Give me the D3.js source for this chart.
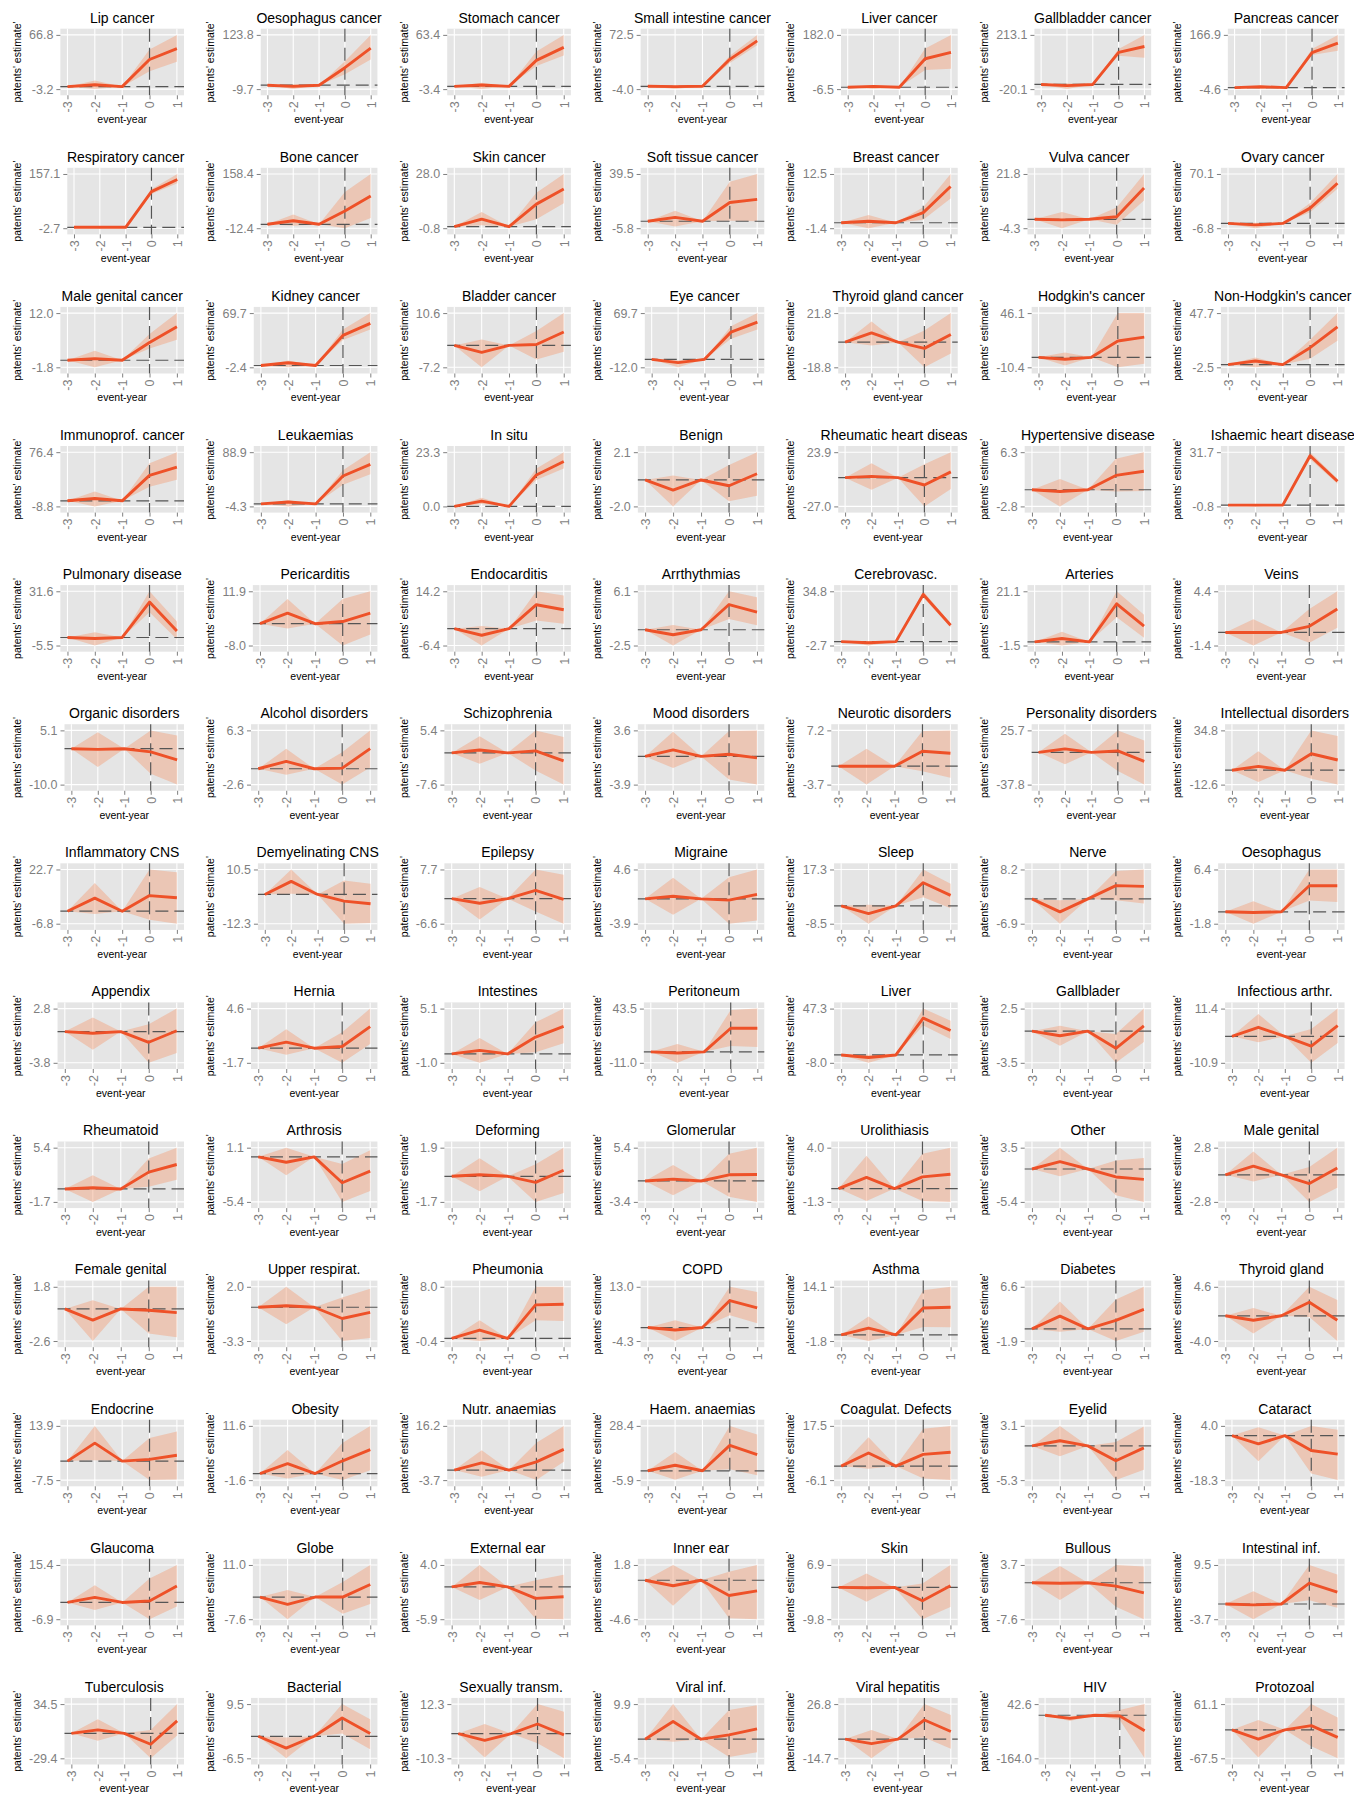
<!DOCTYPE html>
<html>
<head>
<meta charset="utf-8">
<script src="https://cdn.jsdelivr.net/npm/d3@7"></script>
<style>
  body { margin: 0; background: #fff; }
  svg text { font-family: "Liberation Sans", Arial, Helvetica, sans-serif; }
</style>
</head>
<body>
<div id="chart"></div>
<script>
// event-years on the x axis
const eventYears = [-3, -2, -1, 0, 1];

const panelTitles = [
  "Lip cancer", "Oesophagus cancer", "Stomach cancer", "Small intestine cancer", "Liver cancer", "Gallbladder cancer", "Pancreas cancer",
  "Respiratory cancer", "Bone cancer", "Skin cancer", "Soft tissue cancer", "Breast cancer", "Vulva cancer", "Ovary cancer",
  "Male genital cancer", "Kidney cancer", "Bladder cancer", "Eye cancer", "Thyroid gland cancer", "Hodgkin's cancer", "Non-Hodgkin's cancer",
  "Immunoprof. cancer", "Leukaemias", "In situ", "Benign", "Rheumatic heart disease", "Hypertensive disease", "Ishaemic heart disease",
  "Pulmonary disease", "Pericarditis", "Endocarditis", "Arrthythmias", "Cerebrovasc.", "Arteries", "Veins",
  "Organic disorders", "Alcohol disorders", "Schizophrenia", "Mood disorders", "Neurotic disorders", "Personality disorders", "Intellectual disorders",
  "Inflammatory CNS", "Demyelinating CNS", "Epilepsy", "Migraine", "Sleep", "Nerve", "Oesophagus",
  "Appendix", "Hernia", "Intestines", "Peritoneum", "Liver", "Gallblader", "Infectious arthr.",
  "Rheumatoid", "Arthrosis", "Deforming", "Glomerular", "Urolithiasis", "Other", "Male genital",
  "Female genital", "Upper respirat.", "Pheumonia", "COPD", "Asthma", "Diabetes", "Thyroid gland",
  "Endocrine", "Obesity", "Nutr. anaemias", "Haem. anaemias", "Coagulat. Defects", "Eyelid", "Cataract",
  "Glaucoma", "Globe", "External ear", "Inner ear", "Skin", "Bullous", "Intestinal inf.",
  "Tuberculosis", "Bacterial", "Sexually transm.", "Viral inf.", "Viral hepatitis", "HIV", "Protozoal"
];

// the two y tick labels of every panel (max of upper band, min of lower band)
const tickTop = [
  66.8, 123.8, 63.4, 72.5, 182.0, 213.1, 166.9,
  157.1, 158.4, 28.0, 39.5, 12.5, 21.8, 70.1,
  12.0, 69.7, 10.6, 69.7, 21.8, 46.1, 47.7,
  76.4, 88.9, 23.3, 2.1, 23.9, 6.3, 31.7,
  31.6, 11.9, 14.2, 6.1, 34.8, 21.1, 4.4,
  5.1, 6.3, 5.4, 3.6, 7.2, 25.7, 34.8,
  22.7, 10.5, 7.7, 4.6, 17.3, 8.2, 6.4,
  2.8, 4.6, 5.1, 43.5, 47.3, 2.5, 11.4,
  5.4, 1.1, 1.9, 5.4, 4.0, 3.5, 2.8,
  1.8, 2.0, 8.0, 13.0, 14.1, 6.6, 4.6,
  13.9, 11.6, 16.2, 28.4, 17.5, 3.1, 4.0,
  15.4, 11.0, 4.0, 1.8, 6.9, 3.7, 9.5,
  34.5, 9.5, 12.3, 9.9, 26.8, 42.6, 61.1
];
const tickBottom = [
  -3.2, -9.7, -3.4, -4.0, -6.5, -20.1, -4.6,
  -2.7, -12.4, -0.8, -5.8, -1.4, -4.3, -6.8,
  -1.8, -2.4, -7.2, -12.0, -18.8, -10.4, -2.5,
  -8.8, -4.3, 0.0, -2.0, -27.0, -2.8, -0.8,
  -5.5, -8.0, -6.4, -2.5, -2.7, -1.5, -1.4,
  -10.0, -2.6, -7.6, -3.9, -3.7, -37.8, -12.6,
  -6.8, -12.3, -6.6, -3.9, -8.5, -6.9, -1.8,
  -3.8, -1.7, -1.0, -11.0, -8.0, -3.5, -10.9,
  -1.7, -5.4, -1.7, -3.4, -1.3, -5.4, -2.8,
  -2.6, -3.3, -0.4, -4.3, -1.8, -1.9, -4.0,
  -7.5, -1.6, -3.7, -5.9, -6.1, -5.3, -18.3,
  -6.9, -7.6, -5.9, -4.6, -9.8, -7.6, -3.7,
  -29.4, -6.5, -10.3, -5.4, -14.7, -164.0, -67.5
];

// patients' estimate per event-year (-3 .. 1)
const estimate = [
  [0, 2.5, 0, 35, 49], [0, -3, 0, 43, 91], [0, 1.7, 0, 32, 48], [0, -0.5, 0, 38, 64], [0, 3, 0, 99, 121], [0, -5, 0, 138, 163], [0, 3, 0, 111, 141],
  [0, 0, 0, 105, 141], [0, 11, 0, 42, 89], [0, 4, 0, 12, 20], [0, 3.3, 0, 15.7, 18.3], [0, 0.4, 0, 2.6, 9.3], [0, -0.3, 0, 1.2, 15], [0, -2, 0, 21.7, 57],
  [0, 0.4, 0, 4.5, 8.5], [0, 3.6, 0, 40, 56], [0, -2.3, 0, 0.3, 4.4], [0, -5, 0, 41, 56], [0, 7, 0, -4.6, 5.8], [0, -2, 0, 17, 21], [0, 3.3, 0, 15.7, 35],
  [0, 3.7, 0, 40, 53], [0, 3.4, 0, 48, 68], [0, 2.3, 0, 13.5, 19.3], [0, -0.77, 0, -0.44, 0.47], [0, 1.2, 0, -6.9, 5.4], [0, -0.3, 0, 2.4, 3.1], [0, 0, 0, 29.6, 14.3],
  [0, -0.7, 0, 24.2, 4.5], [0, 3.9, 0, 0.8, 3.9], [0, -2.5, 0, 9.1, 7.2], [0, -0.8, 0, 4, 2.8], [0, -0.8, 0, 32.6, 11.3], [0, 1.4, 0, 15.9, 6.6], [0, 0, 0, 0.65, 2.5],
  [0, -0.2, 0, -0.9, -3.1], [0, 1.2, 0, 0.1, 3.3], [0, 0.7, 0, 0.5, -1.9], [0, 0.9, 0, 0.3, -0.2], [0, 0, 0, 3, 2.6], [0, 4, 0, 1.6, -10.5], [0, 3.4, 0, 14.4, 8.9],
  [0, 7.1, 0, 8.5, 7.3], [0, 5.5, 0, -2.8, -3.9], [0, -1.2, 0, 2.2, -0.2], [0, 0.4, 0, -0.2, 0.7], [0, -3.7, 0, 11, 5], [0, -3.6, 0, 3.7, 3.5], [0, -0.1, 0, 3.95, 3.95],
  [0, -0.2, 0, -1.3, 0.1], [0, 0.7, 0, 0.2, 2.5], [0, 0.4, 0, 1.9, 3.1], [0, -1.2, 0, 23.7, 23.7], [0, -2.6, 0, 37.6, 25], [0, -0.5, 0, -1.9, 0.6], [0, 3.7, 0, -4, 4.4],
  [0, 0.15, 0, 2.2, 3.2], [0, -0.65, 0, -3.1, -1.7], [0, 0.1, 0, -0.4, 0.4], [0, 0.3, 0, 1, 1.05], [0, 1.1, 0, 1.15, 1.4], [0, 1.2, 0, -1.3, -1.7], [0, 0.9, 0, -0.9, 0.7],
  [0, -0.9, 0, -0.1, -0.3], [0, 0.15, 0, -1.1, -0.5], [0, 1.3, 0, 5.2, 5.3], [0, -0.8, 0, 8.6, 6.3], [0, 2, 0, 7.9, 8.1], [0, 2, 0, 1.35, 3.05], [0, -0.7, 0, 2.15, -0.7],
  [0, 7.1, 0, 0.7, 2.3], [0, 2.4, 0, 3.1, 5.8], [0, 2.6, 0, 3, 7.6], [0, 3.5, 0, 16.1, 10.2], [0, 5.7, 0, 5.1, 6], [0, 0.8, 0, -2.3, -0.3], [0, -3.4, 0, -6.1, -7.6],
  [0, 2.1, 0, 0.6, 6.8], [0, -2.5, 0, 0, 4.3], [0, 0.8, 0, -2.1, -1.8], [0, -0.65, 0, -1.8, -1.25], [0, -0.1, 0, -4.1, 0.5], [0, -0.1, 0, -0.7, -2.1], [0, -0.2, 0, 5.1, 2.9],
  [0, 4.1, 0, -12.8, 14.7], [0, -3.5, 0, 5.4, 0.8], [0, -2.8, 0, 4, -0.5], [0, 5, 0, 1.2, 2.9], [0, -3.5, 0, 14.6, 5.8], [0, -11.7, 0, -3, -58.6], [0, -22, 0, 10, -18]
];

// lower edge of the confidence band
const lower = [
  [0, -3.2, 0, 20, 32], [0, -9.7, 0, 27, 63], [0, -3.4, 0, 25, 38], [0, -4, 0, 33, 58], [0, -6.5, 0, 60, 64], [0, -20.1, 0, 123, 115], [0, -4.6, 0, 103, 117],
  [0, -2.7, 0, 98, 130], [0, -5, 0, -12.4, 20], [0, 0.8, 0, 4, 12.5], [0, -4.3, 0, 0.5, 0], [0, -1.4, 0, 0.8, 6.2], [0, -4.3, 0, -2.6, 9], [0, -6.8, 0, 16, 49],
  [0, -1.8, 0, 3, 5.2], [0, -2.4, 0, 34, 48], [0, -7.2, 0, -4.6, -2.1], [0, -12, 0, 31, 45], [0, -2.5, 0, -18.8, -8.4], [0, -8.6, 0, -10.4, -6.8], [0, -2.5, 0, 5.5, 22],
  [0, -8.8, 0, 22, 33], [0, -4.3, 0, 33, 51], [0, 1, 0, 11.4, 16.3], [0, -2, 0, -1.6, -1.2], [0, -11.4, 0, -27, -10.7], [0, -2.8, 0, -0.3, -0.2], [0, -0.8, 0, 27.5, 12.8],
  [0, -5.5, 0, 17.3, -1.2], [0, -1.8, 0, -8, -4], [0, -6.4, 0, 3.1, 1.9], [0, -2.5, 0, 1.7, 0.7], [0, -2.7, 0, 30.5, 10], [0, -1.5, 0, 10.3, 1.7], [0, -1.4, 0, -1.1, 0.5],
  [0, -5.1, 0, -7, -10], [0, -1, 0, -2.6, 0.2], [0, -2.6, 0, -4.2, -7.6], [0, -1.6, 0, -3.2, -3.9], [0, -3.7, 0, -1, -2.3], [0, -14, 0, -22, -37.8], [0, -10.3, 0, -7.4, -12.6],
  [0, -1.5, 0, -4.6, -6.8], [0, 0.3, 0, -12.3, -12], [0, -5.5, 0, -3.4, -6.6], [0, -2.5, 0, -3.9, -3.4], [0, -8.5, 0, 4.1, -1.1], [0, -6.9, 0, -0.4, -1.3], [0, -1.8, 0, 1.7, 1.5],
  [0, -2.2, 0, -3.8, -2.6], [0, -0.75, 0, -1.7, 0.5], [0, -1, 0, 0.2, 1.2], [0, -11, 0, 6, 4.8], [0, -8, 0, 30, 16.3], [0, -1.6, 0, -3.5, -1.2], [0, -2.4, 0, -10.9, -2.8],
  [0, -1.7, 0, 0.3, 1.2], [0, -2.2, 0, -5.4, -4.1], [0, -1, 0, -1.7, -1.1], [0, -2.3, 0, -2.55, -3.4], [0, -1.2, 0, -1.2, -1.3], [0, -1.2, 0, -4.3, -5.4], [0, -0.7, 0, -2.8, -1.35],
  [0, -2.6, 0, -2, -2.3], [0, -1.65, 0, -3.3, -3], [0, -0.4, 0, 2.8, 2.7], [0, -4.3, 0, 3.9, 1.4], [0, -1.8, 0, 2.3, 2.2], [0, -0.45, 0, -1.9, -0.45], [0, -2.8, 0, -0.2, -4],
  [0, 0.3, 0, -7.5, -7.3], [0, -1.2, 0, -1.6, 0.8], [0, -2.5, 0, -3.7, 3], [0, -5.7, 0, 1, -2.8], [0, -1.1, 0, -5.4, -6.1], [0, -1.6, 0, -5.3, -3.7], [0, -10.5, 0, -15.6, -18.3],
  [0, -3.1, 0, -6.9, -1.7], [0, -7.6, 0, -5.7, -2.4], [0, -2.4, 0, -5.8, -5.9], [0, -3, 0, -4.5, -4.6], [0, -4.4, 0, -9.8, -6], [0, -3.6, 0, -5, -7.6], [0, -3.7, 0, 0.9, -0.9],
  [0, -8.8, 0, -29.4, -2.5], [0, -6.5, 0, 0.85, -3.8], [0, -10, 0, -4, -10.3], [0, -0.7, 0, -5, -3.7], [0, -14.7, 0, 1.2, -7.4], [0, -21.5, 0, -18, -164], [0, -65.5, 0, -39, -67.5]
];

// upper edge of the confidence band
const upper = [
  [0, 8, 0, 48, 66.8], [0, 3, 0, 59, 123.8], [0, 4.5, 0, 43, 63.4], [0, 1, 0, 43, 72.5], [0, 8, 0, 135, 182], [0, 5, 0, 152, 213.1], [0, 6, 0, 122, 166.9],
  [0, 1, 0, 112, 157.1], [0, 31, 0, 102, 158.4], [0, 7.8, 0, 18, 28], [0, 8.7, 0, 33, 39.5], [0, 2, 0, 4, 12.5], [0, 3.5, 0, 5.7, 21.8], [0, 1, 0, 29, 70.1],
  [0, 2.4, 0, 6.7, 12], [0, 6.8, 0, 48, 69.7], [0, 1.9, 0, 4.7, 10.6], [0, -1.5, 0, 50, 69.7], [0, 15.5, 0, 8.8, 21.8], [0, 5, 0, 46.1, 46.1], [0, 6.5, 0, 23, 47.7],
  [0, 14.5, 0, 59, 76.4], [0, 6.4, 0, 58, 88.9], [0, 3.7, 0, 16.3, 23.3], [0, 0.34, 0, 1.13, 2.1], [0, 13.5, 0, 12.5, 23.9], [0, 1.8, 0, 5.2, 6.3], [0, 0.3, 0, 31.7, 15.8],
  [0, 3.6, 0, 31.6, 11], [0, 9.1, 0, 9.1, 11.9], [0, 1, 0, 14.2, 12.6], [0, 0.75, 0, 6.1, 5.15], [0, 0.5, 0, 34.8, 12.5], [0, 4.2, 0, 21.1, 11.3], [0, 1.4, 0, 2.5, 4.4],
  [0, 4.6, 0, 5.1, 3.7], [0, 3.3, 0, 2.7, 6.3], [0, 4, 0, 5.4, 3.8], [0, 3.4, 0, 3.5, 3.6], [0, 3.5, 0, 7.1, 7.2], [0, 21.8, 0, 25.7, 14], [0, 16.5, 0, 34.8, 30],
  [0, 15.4, 0, 22.7, 21.2], [0, 10.5, 0, 5.9, 4.5], [0, 3.05, 0, 7.7, 6.3], [0, 3.3, 0, 3.4, 4.6], [0, 0.5, 0, 17.3, 10.5], [0, -0.4, 0, 7.8, 8.2], [0, 1.6, 0, 6.4, 6.4],
  [0, 1.7, 0, 0.9, 2.8], [0, 2.2, 0, 1.85, 4.6], [0, 1.8, 0, 3.55, 5.1], [0, 8, 0, 42.2, 43.5], [0, 0.3, 0, 47.3, 35], [0, 0.6, 0, -0.3, 2.5], [0, 9.2, 0, 3, 11.4],
  [0, 1.8, 0, 4, 5.4], [0, 1.1, 0, -0.85, 0.8], [0, 1.2, 0, 0.8, 1.9], [0, 2.6, 0, 4.4, 5.4], [0, 3.2, 0, 3.4, 4], [0, 3.5, 0, 1.4, 1.8], [0, 2.4, 0, 0.8, 2.8],
  [0, 0.7, 0, 1.8, 1.8], [0, 2, 0, 0.95, 1.8], [0, 2.8, 0, 8, 8], [0, 2.3, 0, 13, 11.3], [0, 5.4, 0, 13.1, 14.1], [0, 4.3, 0, 4.6, 6.6], [0, 1.25, 0, 4.6, 2.5],
  [0, 13.9, 0, 9.1, 11.7], [0, 5.7, 0, 7.5, 11.6], [0, 7.3, 0, 10, 16.2], [0, 11.9, 0, 28.4, 23], [0, 12.6, 0, 16.2, 17.5], [0, 3.1, 0, 0.6, 3], [0, 3.4, 0, 4, 2.4],
  [0, 7.1, 0, 9.8, 15.4], [0, 2.4, 0, 5.2, 11], [0, 4, 0, 1.2, 2.2], [0, 1.8, 0, 1, 1.8], [0, 4.3, 0, 1.2, 6.9], [0, 3.5, 0, 3.7, 3.4], [0, 3.1, 0, 9.5, 7.2],
  [0, 16.6, 0, 4.1, 34.5], [0, -0.35, 0, 9.5, 5], [0, 4, 0, 12.3, 9.1], [0, 9.9, 0, 8.2, 9.6], [0, 7, 0, 26.8, 18.5], [0, -3, 0, 20, 42.6], [0, 23.4, 0, 61.1, 29]
];

const config = {
  width: 1354,
  height: 1798,
  cols: 7,
  rowHeight: 139.1,
  plotTop: 28.7,
  plotBottom: 95.3,
  plotRight: 184,
  xExpand: 0.26,
  yExpand: 0.114,
  lineColor: "#EE5128",
  bandColor: "#F2A07A",
  panelBg: "#E5E5E5",
  tickGrey: "#7F7F7F"
};
const colWidth = config.width / config.cols;

const svg = d3.select("#chart")
  .append("svg")
  .attr("width", config.width)
  .attr("height", config.height);

const defs = svg.append("defs");

// hidden text to measure the tick label widths
const measurer = svg.append("text").attr("font-size", 12.5).style("visibility", "hidden");
function labelWidth(s) {
  measurer.text(s);
  return measurer.node().getComputedTextLength();
}
const fmt = v => v.toFixed(1);

panelTitles.forEach((title, i) => {
  const col = i % config.cols;
  const row = Math.floor(i / config.cols);

  defs.append("clipPath").attr("id", `cell${i}`)
    .append("rect")
    .attr("x", 0).attr("y", 0)
    .attr("width", colWidth).attr("height", config.rowHeight);

  const g = svg.append("g")
    .attr("transform", `translate(${col * colWidth},${row * config.rowHeight})`)
    .attr("clip-path", `url(#cell${i})`);

  const top = tickTop[i], bottom = tickBottom[i];
  const labelW = Math.max(labelWidth(fmt(top)), labelWidth(fmt(bottom)));
  const left = 36 + labelW;
  const right = config.plotRight;

  const span = top - bottom;
  const yScale = d3.scaleLinear()
    .domain([bottom - config.yExpand * span, top + config.yExpand * span])
    .range([config.plotBottom, config.plotTop]);
  const xScale = d3.scaleLinear()
    .domain([-3 - config.xExpand, 1 + config.xExpand])
    .range([left, right]);

  // panel background
  g.append("rect")
    .attr("x", left).attr("y", config.plotTop)
    .attr("width", right - left).attr("height", config.plotBottom - config.plotTop)
    .attr("fill", config.panelBg);

  // grid lines
  g.selectAll(".vgrid").data(eventYears).join("line")
    .attr("class", "vgrid")
    .attr("x1", d => xScale(d)).attr("x2", d => xScale(d))
    .attr("y1", config.plotTop).attr("y2", config.plotBottom)
    .attr("stroke", "#fff").attr("stroke-width", 1.1);
  g.selectAll(".hgrid").data([bottom, top]).join("line")
    .attr("class", "hgrid")
    .attr("x1", left).attr("x2", right)
    .attr("y1", d => yScale(d)).attr("y2", d => yScale(d))
    .attr("stroke", "#fff").attr("stroke-width", 1.1);

  const points = eventYears.map((yr, k) => ({
    year: yr, est: estimate[i][k], lo: lower[i][k], hi: upper[i][k]
  }));

  // confidence band
  g.append("path")
    .datum(points)
    .attr("d", d3.area().x(d => xScale(d.year)).y0(d => yScale(d.lo)).y1(d => yScale(d.hi)))
    .attr("fill", config.bandColor)
    .attr("fill-opacity", 0.45);

  // reference lines at 0
  g.append("line")
    .attr("x1", left).attr("x2", right)
    .attr("y1", yScale(0)).attr("y2", yScale(0))
    .attr("stroke", "#555").attr("stroke-width", 1.2)
    .attr("stroke-dasharray", "13,6");
  g.append("line")
    .attr("x1", xScale(0)).attr("x2", xScale(0))
    .attr("y1", config.plotTop).attr("y2", config.plotBottom)
    .attr("stroke", "#555").attr("stroke-width", 1.2)
    .attr("stroke-dasharray", "13,6");

  // estimate line
  g.append("path")
    .datum(points)
    .attr("d", d3.line().x(d => xScale(d.year)).y(d => yScale(d.est)))
    .attr("fill", "none")
    .attr("stroke", config.lineColor)
    .attr("stroke-width", 2.9)
    .attr("stroke-linejoin", "round");

  // y axis
  const yAxis = g.append("g")
    .attr("transform", `translate(${left},0)`)
    .call(d3.axisLeft(yScale).tickValues([bottom, top]).tickFormat(fmt).tickSize(4).tickPadding(3));
  yAxis.select(".domain").remove();
  yAxis.selectAll("line").attr("stroke", config.tickGrey);
  yAxis.selectAll("text")
    .attr("font-size", 12.5)
    .attr("font-family", null)
    .attr("fill", config.tickGrey);

  // x axis with rotated labels
  const xAxis = g.append("g")
    .attr("transform", `translate(0,${config.plotBottom})`)
    .call(d3.axisBottom(xScale).tickValues(eventYears).tickFormat(d3.format("d")).tickSize(4));
  xAxis.select(".domain").remove();
  xAxis.selectAll("line").attr("stroke", config.tickGrey);
  xAxis.selectAll("text")
    .attr("transform", "rotate(-90)")
    .attr("text-anchor", "end")
    .attr("x", -6)
    .attr("y", 0)
    .attr("dy", "0.35em")
    .attr("font-size", 12.5)
    .attr("font-family", null)
    .attr("fill", config.tickGrey)
    .text(d => String(d));

  // titles
  g.append("text")
    .attr("x", (left + right) / 2)
    .attr("y", 22.5)
    .attr("text-anchor", "middle")
    .attr("font-size", 14)
    .attr("fill", "#000")
    .text(title);

  g.append("text")
    .attr("transform", `translate(17,${(config.plotTop + config.plotBottom) / 2}) rotate(-90)`)
    .attr("text-anchor", "middle")
    .attr("dy", "0.35em")
    .attr("font-size", 10.5)
    .attr("fill", "#000")
    .text("patents' estimate'");

  g.append("text")
    .attr("x", (left + right) / 2)
    .attr("y", 123.3)
    .attr("text-anchor", "middle")
    .attr("font-size", 10.5)
    .attr("fill", "#000")
    .text("event-year");
});

measurer.remove();
</script>
</body>
</html>
